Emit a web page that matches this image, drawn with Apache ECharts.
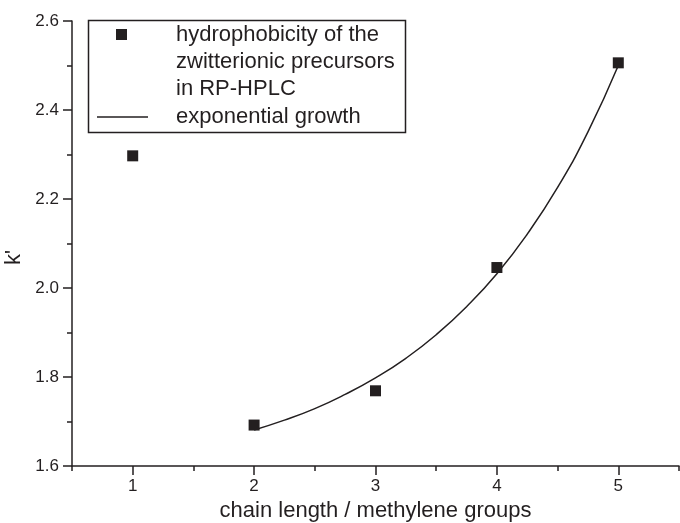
<!DOCTYPE html>
<html>
<head>
<meta charset="utf-8">
<script src="https://cdn.jsdelivr.net/npm/echarts@6/dist/echarts.min.js"></script>
<style>html,body{margin:0;padding:0;background:#fff;}#c{width:680px;height:523px;}</style>
</head>
<body>
<div id="c"></div>
<script>
// Data
var chainLength = [1, 2, 3, 4, 5];
var kPrime = [2.297, 1.692, 1.769, 2.046, 2.506];
var fitX = [2, 2.25, 2.5, 2.75, 3, 3.25, 3.5, 3.75, 4, 4.25, 4.5, 4.75, 5];
var fitY = [1.681, 1.703, 1.729, 1.761, 1.798, 1.842, 1.895, 1.958, 2.032, 2.121, 2.226, 2.351, 2.500];
var xTickValues = [1, 2, 3, 4, 5];
var xMinorValues = [0.5, 1.5, 2.5, 3.5, 4.5, 5.5];
var scatterName = 'hydrophobicity of the\nzwitterionic precursors\nin RP-HPLC';
var lineName = 'exponential growth';

var INK = '#231f20';
var FONT = '"Liberation Sans", Arial, sans-serif';

var chart = echarts.init(document.getElementById('c'), null, {renderer: 'canvas'});
var option = {
  animation: false,
  backgroundColor: '#fff',
  textStyle: {fontFamily: FONT, color: INK},
  grid: {left: 72, right: 1, top: 21, bottom: 57, containLabel: false, outerBoundsMode: 'none'},
  xAxis: [{
    type: 'value', min: 0.5, max: 5.5,
    name: 'chain length / methylene groups', nameLocation: 'middle', nameGap: 27,
    nameTextStyle: {fontSize: 22, color: INK, fontFamily: FONT},
    axisLine: {show: true, onZero: false, lineStyle: {color: INK, width: 1.5}},
    axisTick: {show: true, inside: false, length: 9, customValues: xTickValues, lineStyle: {color: INK, width: 1.5}},
    axisLabel: {show: true, margin: 12, fontSize: 17, color: INK, fontFamily: FONT, customValues: xTickValues},
    splitLine: {show: false}
  }, {
    type: 'value', min: 0.5, max: 5.5, position: 'bottom',
    axisLine: {show: false},
    axisTick: {show: true, length: 5, customValues: xMinorValues, lineStyle: {color: INK, width: 1.5}},
    axisLabel: {show: false},
    splitLine: {show: false}
  }],
  yAxis: {
    type: 'value', min: 1.6, max: 2.6, interval: 0.2,
    name: "k'", nameLocation: 'middle', nameGap: 33,
    nameTextStyle: {fontSize: 22, color: INK, fontFamily: FONT, padding: [0, 28, 0, 0]},
    axisLine: {show: true, onZero: false, lineStyle: {color: INK, width: 1.5}},
    axisTick: {show: true, length: 9, lineStyle: {color: INK, width: 1.5}},
    minorTick: {show: true, splitNumber: 2, length: 5, lineStyle: {color: INK, width: 1.5}},
    axisLabel: {margin: 13, fontSize: 17, color: INK, fontFamily: FONT, formatter: function (v) { return v.toFixed(1); }},
    splitLine: {show: false}
  },
  legend: [{
    data: [scatterName], left: 116, top: -33, padding: 0, orient: 'vertical',
    itemWidth: 11, itemHeight: 11, icon: 'rect', selectedMode: false,
    formatter: function (n) { return '\n\n' + n; },
    textStyle: {fontSize: 22, lineHeight: 27, color: INK, fontFamily: FONT, padding: [0, 0, 0, 44]}
  }, {
    data: [lineName], left: 97, top: 103.5, padding: 0,
    itemWidth: 51, itemHeight: 1.5, icon: 'rect', selectedMode: false,
    textStyle: {fontSize: 22, lineHeight: 27, color: INK, fontFamily: FONT, padding: [0, 0, 0, 23]}
  }],
  graphic: [{
    type: 'rect', left: 86, top: 18, silent: true,
    shape: {width: 317, height: 112},
    style: {fill: null, stroke: INK, lineWidth: 1.5}
  }],
  series: [{
    name: scatterName, type: 'scatter', xAxisIndex: 0,
    symbol: 'rect', symbolSize: 11,
    itemStyle: {color: INK, opacity: 1},
    data: chainLength.map(function (x, i) { return [x, kPrime[i]]; }),
    z: 3
  }, {
    name: lineName, type: 'line', xAxisIndex: 0,
    smooth: true, symbol: 'none', showSymbol: false,
    lineStyle: {color: INK, width: 1.5},
    itemStyle: {color: INK},
    data: fitX.map(function (x, i) { return [x, fitY[i]]; }),
    z: 2
  }]
};
chart.setOption(option);
</script>
</body>
</html>
